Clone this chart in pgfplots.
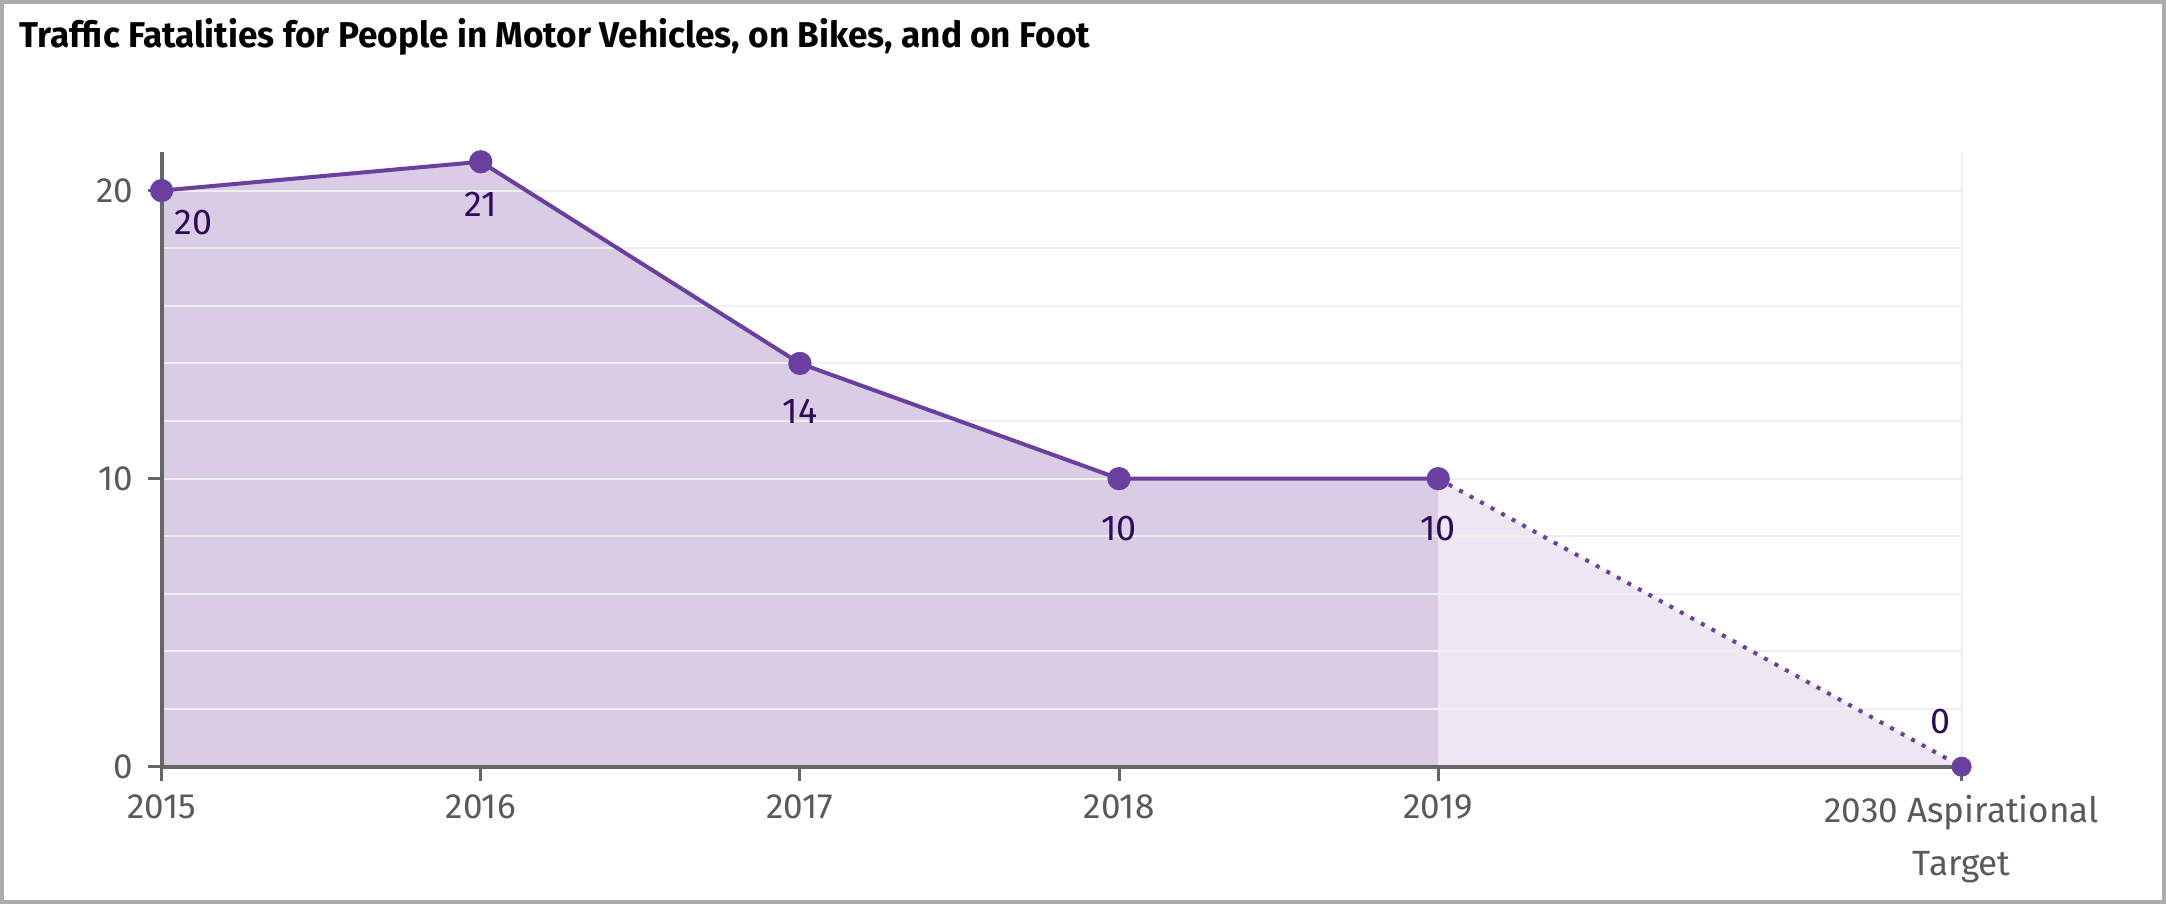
\documentclass[border=0pt]{standalone}
\usepackage{fontspec}
\setmainfont{Fira Sans}
\usepackage{pgfplots}
\pgfplotsset{compat=1.18}
\definecolor{lineP}{HTML}{6B3FA0}
\definecolor{fillA}{HTML}{D9CCE5}
\definecolor{fillB}{HTML}{EDE6F3}
\definecolor{lab}{HTML}{2E0A57}
\definecolor{tickc}{HTML}{595959}
\definecolor{axc}{HTML}{666666}
\definecolor{gridc}{HTML}{EFEFEF}
\definecolor{framec}{HTML}{ABABAB}
\begin{document}
\begin{tikzpicture}
\draw[framec, line width=2bp] (1bp,1bp) rectangle (1082bp,451bp);
\node[anchor=base west, inner sep=0, font=\fontsize{18}{22}\selectfont\bfseries] at (9.5bp,428bp) {\scalebox{0.98}[1]{Traffic Fatalities for People in Motor Vehicles, on Bikes, and on Foot}};
\begin{axis}[
  set layers,
  at={(80.8bp,68.65bp)}, anchor=south west,
  scale only axis, width=900bp, height=307.35bp,
  xmin=0, xmax=5.64, ymin=0, ymax=21.34,
  clip=false,
  axis x line=bottom, axis y line=left,
  axis line style={-, draw=axc, line width=2bp},
  xtick={0,1,2,3,4},
  xticklabels={2015,2016,2017,2018,2019},
  extra x ticks={5.64},
  extra x tick labels={2030 Aspirational\\Target},
  extra x tick style={grid=major, major grid style={gridc, line width=1bp}},
  ytick={0,10,20},
  minor y tick num=4,
  ymajorgrids, yminorgrids,
  major grid style={gridc, line width=1bp},
  minor grid style={gridc, line width=1bp},
  tick align=outside,
  major tick length=7bp, minor tick length=0pt,
  tick style={axc, line width=1.5bp},
  ticklabel style={font=\fontsize{17.6}{27}\selectfont, text=tickc},
  xticklabel style={align=center, yshift=-3.5bp},
  yticklabel style={xshift=-3.5bp},
  /pgf/number format/assume math mode=true,
]
\addplot[draw=none, fill=fillA, on layer=axis background] coordinates {(0,20)(1,21)(2,14)(3,10)(4,10)} \closedcycle;
\addplot[draw=none, fill=fillB, on layer=axis background] coordinates {(4,10)(5.64,0)} \closedcycle;
\addplot[lineP, line width=2bp, dash pattern=on 2bp off 4bp] coordinates {(4,10)(5.64,0)};
\addplot[lineP, line width=2bp, mark=*, mark size=4.8bp, mark options={solid, fill=lineP, draw=lineP}] coordinates {(0,20)(1,21)(2,14)(3,10)(4,10)};
\addplot[only marks, mark=*, mark size=4.8bp, mark options={fill=lineP, draw=lineP}] coordinates {(5.64,0)};
\node[text=lab, font=\fontsize{18}{22}\selectfont, inner sep=0, anchor=center, xshift=15.9bp, yshift=-15.9bp] at (axis cs:0,20) {20};
\node[text=lab, font=\fontsize{18}{22}\selectfont, inner sep=0, anchor=center, yshift=-21.4bp] at (axis cs:1,21) {21};
\node[text=lab, font=\fontsize{18}{22}\selectfont, inner sep=0, anchor=center, yshift=-24bp] at (axis cs:2,14) {14};
\node[text=lab, font=\fontsize{18}{22}\selectfont, inner sep=0, anchor=center, yshift=-24.9bp] at (axis cs:3,10) {10};
\node[text=lab, font=\fontsize{18}{22}\selectfont, inner sep=0, anchor=center, yshift=-24.9bp] at (axis cs:4,10) {10};
\node[text=lab, font=\fontsize{18}{22}\selectfont, inner sep=0, anchor=center, xshift=-10.4bp, yshift=22.8bp] at (axis cs:5.64,0) {0};
\end{axis}
\end{tikzpicture}
\end{document}
